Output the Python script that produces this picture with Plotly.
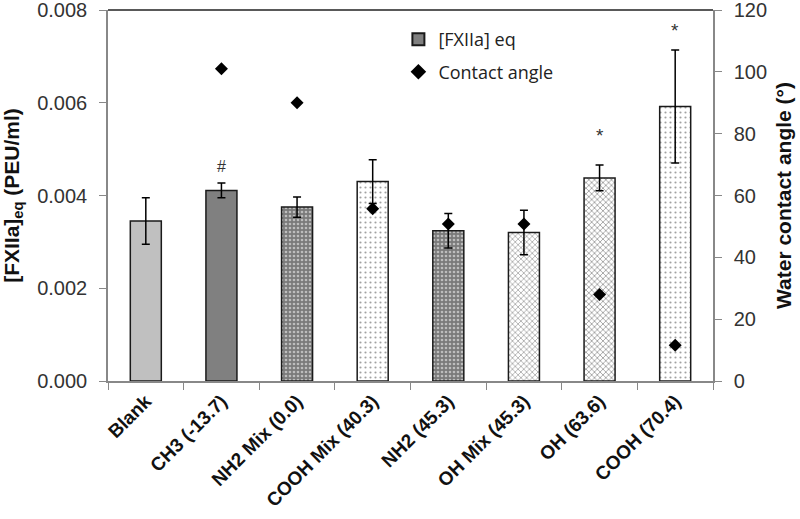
import plotly.graph_objects as go

categories = ["Blank", "CH3 (-13.7)", "NH2 Mix (0.0)", "COOH Mix (40.3)",
              "NH2 (45.3)", "OH Mix (45.3)", "OH (63.6)", "COOH (70.4)"]
fxiia = [0.00345, 0.00411, 0.00375, 0.00430, 0.00324, 0.00320, 0.00438, 0.00592]
fxiia_err = [0.00050, 0.00016, 0.00022, 0.00047, 0.00037, 0.00048, 0.00028, 0.00122]
contact_angle = [None, 101, 90, 55.7, 50.8, 50.8, 28, 11.6]
sig_labels = ["", "#", "", "", "", "", "*", "*"]
sig_y = [None, 0.00462, None, None, None, None, 0.00530, 0.00755]

bar_colors = ["#c0c0c0", "#808080", "#7a7a7a", "#ffffff", "#7a7a7a", "#ffffff", "#ffffff", "#ffffff"]
pat_shapes = ["", "", ".", ".", ".", "x", "x", "."]
pat_fg = ["#000000", "#000000", "#dddddd", "#8c8c8c", "#dddddd", "#8a8a8a", "#7a7a7a", "#8c8c8c"]
pat_size = [6, 6, 4, 5, 4, 4, 4, 5]
pat_sol = [0.3, 0.3, 0.35, 0.15, 0.35, 0.35, 0.4, 0.15]

fig = go.Figure()
fig.add_trace(go.Bar(
    x=categories, y=fxiia, showlegend=False, width=0.41,
    marker=dict(color=bar_colors, line=dict(color="#1a1a1a", width=1.5),
                pattern=dict(shape=pat_shapes, fgcolor=pat_fg,
                             size=pat_size, solidity=pat_sol, fillmode="overlay")),
    error_y=dict(type="data", array=fxiia_err, color="#000", thickness=1.5, width=4),
))
fig.add_trace(go.Bar(
    x=[categories[0]], y=[None], name="[FXIIa] eq", legendgroup="a",
    marker=dict(color="#808080", line=dict(color="#1a1a1a", width=1.5)),
))
fig.add_trace(go.Scatter(
    x=categories, y=contact_angle, yaxis="y2", mode="markers", name="Contact angle",
    legendgroup="b",
    marker=dict(symbol="diamond", size=10, color="#000"),
))

for c, t, yv in zip(categories, sig_labels, sig_y):
    if t:
        fig.add_annotation(x=c, y=yv, text=t, showarrow=False,
                           font=dict(family="Liberation Sans, Arial",
                                     size=16 if t == "#" else 19, color="#333"))

fig.add_shape(type="line", xref="paper", yref="paper", x0=0, x1=1, y0=1, y1=1,
              line=dict(color="#222", width=1.5))

fig.update_layout(
    width=800, height=519, barmode="overlay",
    margin=dict(l=108, r=87, t=10, b=138),
    plot_bgcolor="white", paper_bgcolor="white",
    font=dict(family="Liberation Sans, Arial", color="#333"),
    xaxis=dict(type="category", tickangle=-45, tickson="boundaries", ticks="outside",
               ticklen=7, tickcolor="#888", showline=True, linecolor="#888", linewidth=1.5,
               tickfont=dict(family="Liberation Sans, Arial", size=19, color="#111", weight="bold"),
               showgrid=False, automargin=False),
    yaxis=dict(range=[0, 0.008], dtick=0.002, tickformat=".3f", ticks="outside", ticklen=7,
               tickcolor="#888", showline=True, linecolor="#888", linewidth=1.5, showgrid=False,
               zeroline=False, tickfont=dict(size=20, color="#333"), automargin=False,
               ticklabelstandoff=8, ticklabeloverflow="allow",
               title=dict(text="[FXIIa]<sub>eq</sub> (PEU/ml)", standoff=12,
                          font=dict(size=21, color="#111", weight="bold"))),
    yaxis2=dict(range=[0, 120], dtick=20, overlaying="y", side="right", ticks="outside",
                ticklen=7, tickcolor="#888", showline=True, linecolor="#888", linewidth=1.5,
                showgrid=False, zeroline=False, tickfont=dict(size=20, color="#333"),
                automargin=False, ticklabelstandoff=8, ticklabeloverflow="allow",
                title=dict(text="Water contact angle (°)", standoff=10,
                           font=dict(size=21, color="#111", weight="bold"))),
    legend=dict(x=0.48, y=0.97, xanchor="left", yanchor="top", bgcolor="rgba(0,0,0,0)",
                font=dict(family="Open Sans, Liberation Sans", size=18, color="#222"),
                traceorder="grouped", tracegroupgap=6, itemsizing="constant"),
)

fig.write_html("out.html", config={"displayModeBar": False},
               post_script="document.body.style.margin='0';")
